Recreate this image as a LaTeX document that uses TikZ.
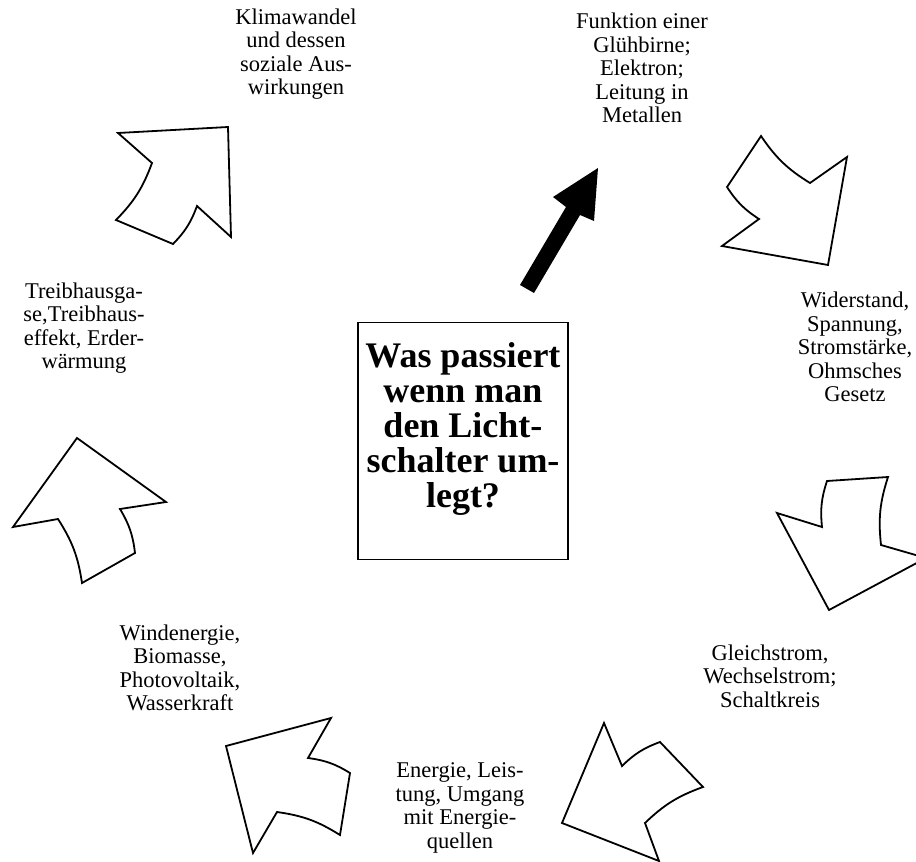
\documentclass[tikz,border=0pt]{standalone}
\usepackage{fontspec}
\setmainfont{Liberation Serif}
\begin{document}
\begin{tikzpicture}[x=1pt,y=-1pt,
  blockarrow/.style={draw=black, line width=1.8pt, fill=white, line join=miter},
  pointer/.style={fill=black},
  topic/.style={align=center, inner sep=0pt, font=\fontsize{22.5}{23.5}\selectfont},
  questionbox/.style={draw=black, line width=1.5pt, minimum width=210pt, minimum height=237pt},
  question/.style={align=center, inner sep=0pt,
    font=\bfseries\fontsize{36}{35}\selectfont}]
\useasboundingbox (0,0) rectangle (916,862);
\begin{scope}
\clip (0,0) rectangle (916,862);

% central question in its frame
\node[questionbox] (frame) at (463,441) {};
\node[question] (title) at (463,429) {Was passiert\\wenn man\\den Licht-\\schalter um-\\legt?};

% topics around the circle
\node[topic] (klima) at (296,54) {Klimawandel\\und dessen\\soziale Aus-\\wirkungen};
\node[topic] (funktion) at (642,68) {Funktion einer\\Glühbirne;\\Elektron;\\Leitung in\\Metallen};
\node[topic] (widerstand) at (855,347) {Widerstand,\\Spannung,\\Stromstärke,\\Ohmsches\\Gesetz};
\node[topic] (gleich) at (770,676) {Gleichstrom,\\Wechselstrom;\\Schaltkreis};
\node[topic] (energie) at (460,808) {Energie, Leis-\\tung, Umgang\\mit Energie-\\quellen};
\node[topic] (wind) at (180,668) {Windenergie,\\Biomasse,\\Photovoltaik,\\Wasserkraft};
\node[topic] (treib) at (84,328) {Treibhausga-\\se,Treibhaus-\\effekt, Erder-\\wärmung};

% start arrow from the question
\fill[pointer] (520,285) -- (566,207) -- (553,197) -- (598,168) -- (594,221)
  -- (580,215) -- (534,293) -- cycle;

% curved block arrows running clockwise
\draw[blockarrow] (228,127) -- (118,133) -- (152,163) to[bend left=12] (116,220)
  -- (173,244) to[bend right=12] (197,206) -- (231,237) -- cycle;
\draw[blockarrow] (761,136) to[bend right=12] (810,183) -- (847,157) -- (828,265)
  -- (722,246) -- (759,219) to[bend left=12] (727,187) -- cycle;
\draw[blockarrow] (827,481) -- (888,477) to[bend right=12] (881,545) -- (926,558)
  -- (829,610) -- (777,513) -- (822,527) to[bend left=12] cycle;
\draw[blockarrow] (562,823) -- (604,723) -- (622,766) to[bend left=12] (660,742)
  -- (703,787) to[bend right=12] (645,823) -- (659,861) -- cycle;
\draw[blockarrow] (226,746) -- (331,718) -- (308,758) to[bend left=12] (350,773)
  -- (340,835) to[bend right=12] (277,812) -- (253,853) -- cycle;
\draw[blockarrow] (77,438) -- (13,527) -- (58,519) to[bend left=12] (82,583)
  -- (135,553) to[bend right=12] (120,509) -- (166,502) -- cycle;
\end{scope}
\end{tikzpicture}
\end{document}
